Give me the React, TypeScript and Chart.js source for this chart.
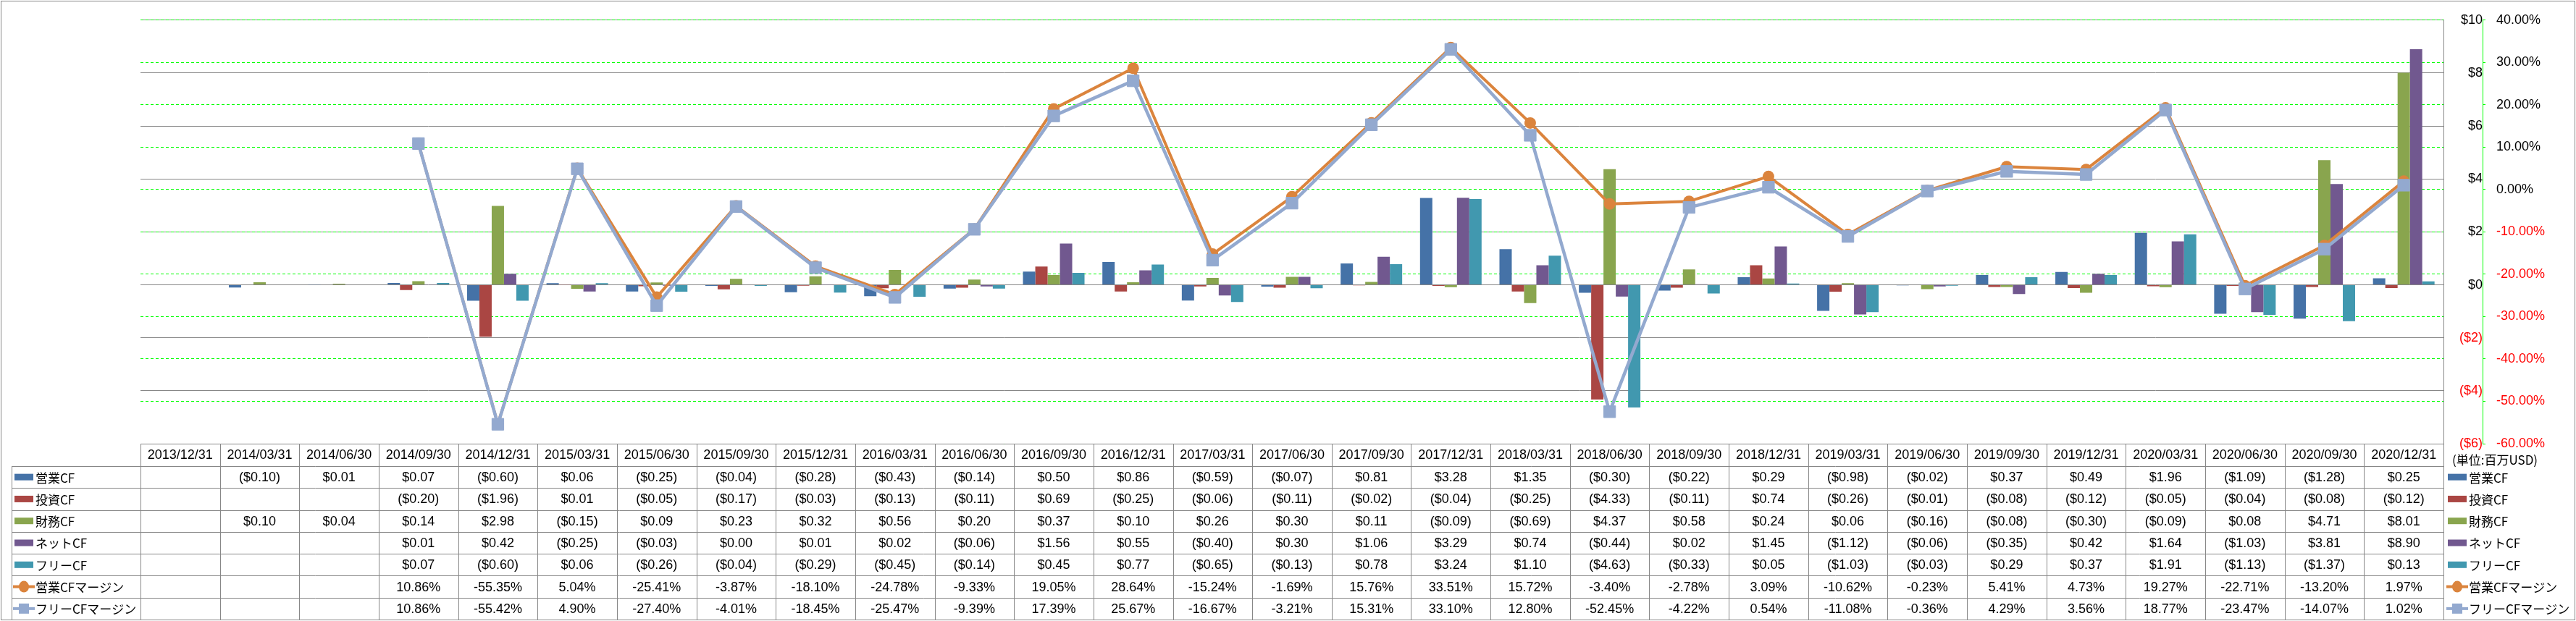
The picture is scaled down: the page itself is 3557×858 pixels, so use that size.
import React, { useEffect, useRef } from "react";
import { Chart, registerables } from "chart.js";

Chart.register(...registerables);

const categories = [
  "2013/12/31", "2014/03/31", "2014/06/30", "2014/09/30", "2014/12/31",
  "2015/03/31", "2015/06/30", "2015/09/30", "2015/12/31", "2016/03/31",
  "2016/06/30", "2016/09/30", "2016/12/31", "2017/03/31", "2017/06/30",
  "2017/09/30", "2017/12/31", "2018/03/31", "2018/06/30", "2018/09/30",
  "2018/12/31", "2019/03/31", "2019/06/30", "2019/09/30", "2019/12/31",
  "2020/03/31", "2020/06/30", "2020/09/30", "2020/12/31",
];

const operatingCF = [null, -0.10, 0.01, 0.07, -0.60, 0.06, -0.25, -0.04, -0.28, -0.43, -0.14, 0.50, 0.86, -0.59, -0.07, 0.81, 3.28, 1.35, -0.30, -0.22, 0.29, -0.98, -0.02, 0.37, 0.49, 1.96, -1.09, -1.28, 0.25];
const investingCF = [null, null, null, -0.20, -1.96, 0.01, -0.05, -0.17, -0.03, -0.13, -0.11, 0.69, -0.25, -0.06, -0.11, -0.02, -0.04, -0.25, -4.33, -0.11, 0.74, -0.26, -0.01, -0.08, -0.12, -0.05, -0.04, -0.08, -0.12];
const financingCF = [null, 0.10, 0.04, 0.14, 2.98, -0.15, 0.09, 0.23, 0.32, 0.56, 0.20, 0.37, 0.10, 0.26, 0.30, 0.11, -0.09, -0.69, 4.37, 0.58, 0.24, 0.06, -0.16, -0.08, -0.30, -0.09, 0.08, 4.71, 8.01];
const netCF = [null, null, null, 0.01, 0.42, -0.25, -0.03, 0.00, 0.01, 0.02, -0.06, 1.56, 0.55, -0.40, 0.30, 1.06, 3.29, 0.74, -0.44, 0.02, 1.45, -1.12, -0.06, -0.35, 0.42, 1.64, -1.03, 3.81, 8.90];
const freeCF = [null, null, null, 0.07, -0.60, 0.06, -0.26, -0.04, -0.29, -0.45, -0.14, 0.45, 0.77, -0.65, -0.13, 0.78, 3.24, 1.10, -4.63, -0.33, 0.05, -1.03, -0.03, 0.29, 0.37, 1.91, -1.13, -1.37, 0.13];
const operatingMargin = [null, null, null, 10.86, -55.35, 5.04, -25.41, -3.87, -18.10, -24.78, -9.33, 19.05, 28.64, -15.24, -1.69, 15.76, 33.51, 15.72, -3.40, -2.78, 3.09, -10.62, -0.23, 5.41, 4.73, 19.27, -22.71, -13.20, 1.97];
const freeMargin = [null, null, null, 10.86, -55.42, 4.90, -27.40, -4.01, -18.45, -25.47, -9.39, 17.39, 25.67, -16.67, -3.21, 15.31, 33.10, 12.80, -52.45, -4.22, 0.54, -11.08, -0.36, 4.29, 3.56, 18.77, -23.47, -14.07, 1.02];

const seriesNames = ["営業CF", "投資CF", "財務CF", "ネットCF", "フリーCF", "営業CFマージン", "フリーCFマージン"];
const seriesColors = ["#4572A7", "#AA4643", "#89A54E", "#71588F", "#4198AF", "#DB843D", "#93A9CF"];
const unitLabel = "(単位:百万USD)";

const dollarAxis = { min: -6, max: 10, step: 2 };
const percentAxis = { min: -60, max: 40, step: 10 };

const W = 3557;
const H = 858;
const NUM_FONT = '"Liberation Sans", Arial, sans-serif';
const JP_FONT = '"Noto Sans CJK JP", "Noto Sans", sans-serif';
const GRID_GREY = "#878787";

const fmtDollar = (v: number | null) =>
  v == null ? "" : v < 0 ? `($${Math.abs(v).toFixed(2)})` : `$${v.toFixed(2)}`;
const fmtPct = (v: number | null) => (v == null ? "" : `${v.toFixed(2)}%`);

function drawMarker(ctx: CanvasRenderingContext2D, i: number, x: number, y: number) {
  const c = seriesColors[i];
  if (i < 5) {
    ctx.fillStyle = c;
    ctx.fillRect(x, y - 4.5, 26, 9);
  } else {
    ctx.strokeStyle = c;
    ctx.lineWidth = 4;
    ctx.beginPath();
    ctx.moveTo(x - 2, y);
    ctx.lineTo(x + 28, y);
    ctx.stroke();
    ctx.fillStyle = c;
    if (i === 5) {
      ctx.beginPath();
      ctx.ellipse(x + 13, y, 7, 8, 0, 0, Math.PI * 2);
      ctx.fill();
    } else {
      ctx.fillRect(x + 6, y - 7, 14, 14);
    }
  }
}

const tablePlugin = {
  id: "dataTable",
  afterDraw(chart: any) {
    const ctx: CanvasRenderingContext2D = chart.ctx;
    const area = chart.chartArea;
    const xs = chart.scales.x;
    const n = categories.length;
    const colW = (area.right - area.left) / n;
    const top = area.bottom;
    const hdrBottom = top + 31;
    const bottom = 856;
    const rowH = (bottom - hdrBottom) / 7;
    const legLeft = 16;
    const px = (v: number) => Math.round(v) + 0.5;
    const rows: (number | null)[][] = [operatingCF, investingCF, financingCF, netCF, freeCF, operatingMargin, freeMargin];

    ctx.save();
    ctx.strokeStyle = GRID_GREY;
    ctx.lineWidth = 1;
    ctx.beginPath();
    ctx.moveTo(area.left, px(top));
    ctx.lineTo(area.right, px(top));
    for (let r = 0; r <= 7; r++) {
      const y = px(hdrBottom + r * rowH);
      ctx.moveTo(legLeft, y);
      ctx.lineTo(area.right, y);
    }
    for (let k = 0; k <= n; k++) {
      const x = px(area.left + k * colW);
      ctx.moveTo(x, top);
      ctx.lineTo(x, bottom);
    }
    ctx.moveTo(px(legLeft), hdrBottom);
    ctx.lineTo(px(legLeft), bottom);
    ctx.stroke();

    // header
    ctx.fillStyle = "#000";
    ctx.textAlign = "center";
    ctx.textBaseline = "middle";
    ctx.font = `18px ${NUM_FONT}`;
    for (let k = 0; k < n; k++) {
      const cx = xs.getPixelForValue(k);
      ctx.fillText(categories[k], cx, (top + hdrBottom) / 2 + 1);
    }
    // values
    for (let r = 0; r < 7; r++) {
      const cy = hdrBottom + (r + 0.5) * rowH + 1;
      for (let k = 0; k < n; k++) {
        const v = rows[r][k];
        const s = r < 5 ? fmtDollar(v) : fmtPct(v);
        if (s) {
          ctx.fillStyle = "#000";
          ctx.textAlign = "center";
          ctx.font = `18px ${NUM_FONT}`;
          ctx.fillText(s, xs.getPixelForValue(k), cy);
        }
      }
      // left legend
      drawMarker(ctx, r, 20, cy - 1);
      ctx.fillStyle = "#000";
      ctx.textAlign = "left";
      ctx.font = `17px ${JP_FONT}`;
      ctx.fillText(seriesNames[r], 49, cy);
      // right legend
      drawMarker(ctx, r, 3380, cy - 1);
      ctx.fillStyle = "#000";
      ctx.textAlign = "left";
      ctx.font = `17px ${JP_FONT}`;
      ctx.fillText(seriesNames[r], 3409, cy);
    }
    // unit label
    ctx.fillStyle = "#000";
    ctx.textAlign = "left";
    ctx.font = `17px ${JP_FONT}`;
    ctx.fillText(unitLabel, 3386, 636);

    // outer frame
    ctx.strokeStyle = GRID_GREY;
    ctx.lineWidth = 1;
    ctx.strokeRect(1.5, 1.5, W - 3, H - 3);
    ctx.restore();
  },
};

export default function App() {
  const ref = useRef<HTMLCanvasElement>(null);

  useEffect(() => {
    document.body.style.margin = "0";
    const canvas = ref.current;
    if (!canvas) return;
    const barDs = (i: number, data: (number | null)[]) => ({
      type: "bar" as const,
      label: seriesNames[i],
      data,
      backgroundColor: seriesColors[i],
      borderWidth: 0,
      yAxisID: "y",
      order: 2,
      categoryPercentage: 0.775,
      barPercentage: 1.0,
    });
    const chart = new Chart(canvas, {
      type: "bar",
      data: {
        labels: categories,
        datasets: [
          barDs(0, operatingCF),
          barDs(1, investingCF),
          barDs(2, financingCF),
          barDs(3, netCF),
          barDs(4, freeCF),
          {
            type: "line",
            label: seriesNames[5],
            data: operatingMargin,
            borderColor: seriesColors[5],
            backgroundColor: seriesColors[5],
            borderWidth: 4,
            pointStyle: "circle",
            pointRadius: 8,
            pointBorderWidth: 0,
            pointBackgroundColor: seriesColors[5],
            tension: 0,
            borderJoinStyle: "round",
            borderCapStyle: "round",
            yAxisID: "y1",
            order: 1,
          } as any,
          {
            type: "line",
            label: seriesNames[6],
            data: freeMargin,
            borderColor: seriesColors[6],
            backgroundColor: seriesColors[6],
            borderWidth: 4.5,
            pointStyle: "rect",
            pointRadius: 11.5,
            pointBorderWidth: 1,
            pointBorderColor: seriesColors[6],
            pointBackgroundColor: seriesColors[6],
            tension: 0,
            borderJoinStyle: "round",
            borderCapStyle: "round",
            yAxisID: "y1",
            order: 0,
          } as any,
        ],
      },
      options: {
        responsive: false,
        maintainAspectRatio: false,
        devicePixelRatio: 1,
        animation: false,
        layout: { padding: { left: 194, top: 13, right: 0, bottom: 0 } },
        plugins: {
          legend: { display: false },
          tooltip: { enabled: false },
          title: { display: false },
        },
        scales: {
          x: {
            type: "category",
            offset: true,
            grid: { display: false },
            border: { display: false },
            ticks: { display: false },
            afterFit: (s: any) => {
              s.height = H - 613;
            },
          },
          y: {
            position: "right",
            min: dollarAxis.min,
            max: dollarAxis.max,
            ticks: {
              stepSize: dollarAxis.step,
              crossAlign: "far",
              padding: 17,
              font: { family: NUM_FONT, size: 18 },
              color: (c: any) => (c.tick && c.tick.value < 0 ? "#FF0000" : "#000000"),
              callback: (v: any) => (v < 0 ? `($${Math.abs(v)})` : `$${v}`),
            },
            grid: { color: GRID_GREY, lineWidth: 1, drawTicks: false },
            border: { display: true, color: GRID_GREY, width: 1 },
            afterFit: (s: any) => {
              s.width = 54;
            },
          },
          y1: {
            position: "right",
            min: percentAxis.min,
            max: percentAxis.max,
            ticks: {
              stepSize: percentAxis.step,
              padding: 15,
              font: { family: NUM_FONT, size: 18 },
              color: (c: any) => (c.tick && c.tick.value < 0 ? "#FF0000" : "#000000"),
              callback: (v: any) => `${Number(v).toFixed(2)}%`,
            },
            grid: {
              color: "#00FF00",
              lineWidth: 1,
              drawTicks: true,
              tickLength: 4,
              tickColor: "#00FF00",
            },
            border: { display: true, color: "#00FF00", width: 1, dash: [4, 3] },
            afterFit: (s: any) => {
              s.width = 129;
            },
          },
        },
      } as any,
      plugins: [tablePlugin],
    });
    return () => chart.destroy();
  }, []);

  return (
    <div style={{ width: W, height: H, background: "#fff" }}>
      <canvas ref={ref} width={W} height={H} style={{ display: "block", width: W, height: H }} />
    </div>
  );
}
